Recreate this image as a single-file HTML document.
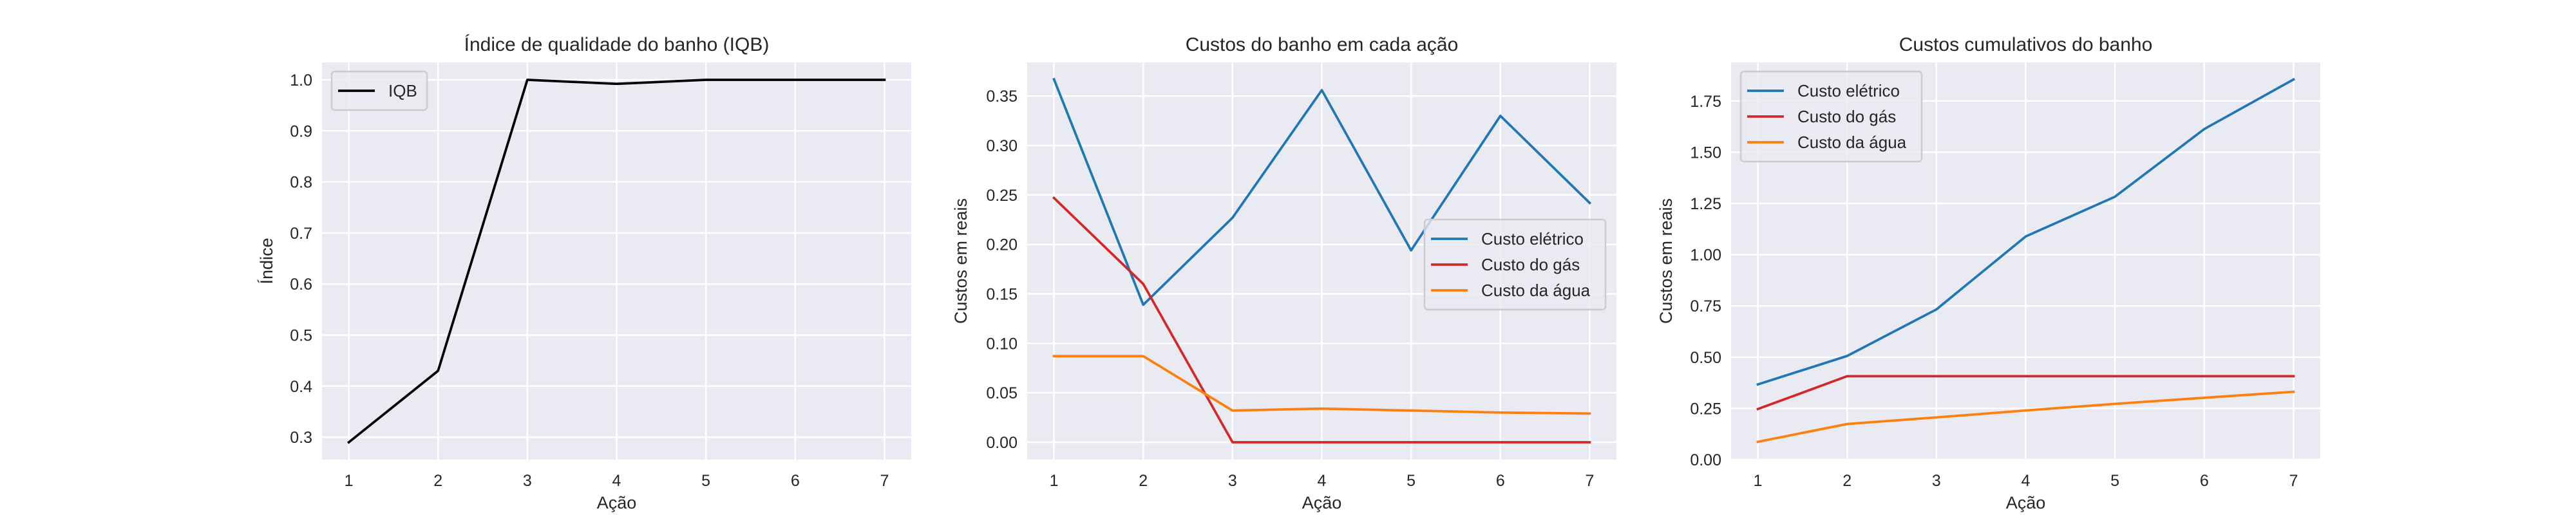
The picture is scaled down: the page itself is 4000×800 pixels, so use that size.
<!DOCTYPE html>
<html><head><meta charset="utf-8">
<style>
html,body{margin:0;padding:0;background:#fff;}
svg{display:block;font-family:"Liberation Sans",Arial,sans-serif;}
</style></head>
<body>
<svg id="chart" width="4000" height="800" viewBox="0 0 4000 800" xmlns="http://www.w3.org/2000/svg"></svg>
<script>
const actions = [1,2,3,4,5,6,7];
const iqbValues = [0.29,0.43,1.0,0.992,1.0,1.0,1.0];
const eletricoValues = [0.367,0.139,0.227,0.356,0.194,0.330,0.242];
const gasValues = [0.247,0.160,0,0,0,0,0];
const aguaValues = [0.087,0.087,0.032,0.034,0.032,0.030,0.029];
const eletricoCum = [0.367,0.506,0.733,1.089,1.283,1.613,1.855];
const gasCum = [0.247,0.407,0.407,0.407,0.407,0.407,0.407];
const aguaCum = [0.087,0.174,0.206,0.240,0.272,0.302,0.331];
const ticks1 = [0.3,0.4,0.5,0.6,0.7,0.8,0.9,1.0];
const ticks1Labels = ["0.3","0.4","0.5","0.6","0.7","0.8","0.9","1.0"];
const ticks2 = [0,0.05,0.1,0.15,0.2,0.25,0.3,0.35];
const ticks2Labels = ["0.00","0.05","0.10","0.15","0.20","0.25","0.30","0.35"];
const ticks3 = [0,0.25,0.5,0.75,1.0,1.25,1.5,1.75];
const ticks3Labels = ["0.00","0.25","0.50","0.75","1.00","1.25","1.50","1.75"];

const NS="http://www.w3.org/2000/svg";
const svg=document.getElementById('chart');
function mk(tag,attrs,parent){const e=document.createElementNS(NS,tag);for(const k in attrs)e.setAttribute(k,attrs[k]);(parent||svg).appendChild(e);return e;}

function panel(cfg){
  const g=mk('g',{});
  
  
  const L=cfg.left,R=cfg.left+915,T=97,B=714;
  const xs=v=>L+(v-0.7)/6.6*(R-L);
  const ys=v=>B-(v-cfg.ymin)/(cfg.ymax-cfg.ymin)*(B-T);
  const bg=mk('rect',{x:L,y:T,width:R-L,height:B-T,fill:'#eaeaf2'},g);
  
  
  cfg.ticks.forEach((t,i)=>{
    const y=ys(t);
    const gl=mk('line',{x1:L,x2:R,y1:y,y2:y,stroke:'#fff','stroke-width':2.5},g);
    
    
    const tl=mk('text',{x:L-15,y:y+9,'text-anchor':'end','font-size':25,fill:'#262626'},g);
    
    
    tl.textContent=cfg.tickLabels[i];
  });
  actions.forEach(a=>{
    const x=xs(a);
    const gl=mk('line',{x1:x,x2:x,y1:T,y2:B,stroke:'#fff','stroke-width':2.5},g);
    
    
    const tl=mk('text',{x:x,y:755,'text-anchor':'middle','font-size':25,fill:'#262626'},g);
    
    
    tl.textContent=String(a);
  });
  cfg.series.forEach(s=>{
    const p=mk('polyline',{points:s.values.map((v,i)=>xs(actions[i])+','+ys(v)).join(' '),fill:'none',stroke:s.color,'stroke-width':3.75,'stroke-linejoin':'round','stroke-linecap':'square'},g);
    
    
  });
  const title=mk('text',{x:(L+R)/2,y:79,'text-anchor':'middle','font-size':30,fill:'#262626'},g);
  
  
  title.textContent=cfg.title;
  const xl=mk('text',{x:(L+R)/2,y:790,'text-anchor':'middle','font-size':27,fill:'#262626'},g);
  
  
  xl.textContent='Ação';
  const yl=mk('text',{x:0,y:0,'text-anchor':'middle','font-size':27,fill:'#262626',transform:`translate(${cfg.ylx},${(T+B)/2}) rotate(-90)`},g);
  
  
  yl.textContent=cfg.ylabel;
  // legend
  const lg=mk('g',{},g);
  
  
  const n=cfg.series.length;
  mk('rect',{x:cfg.lx,y:cfg.ly,width:cfg.lw,height:20+40*n,rx:5,fill:'#eaeaf2','fill-opacity':0.8,stroke:'#cccccc','stroke-width':2.5},lg);
  cfg.series.forEach((s,i)=>{
    const cy=cfg.ly+30+40*i;
    const e=mk('g',{},lg);
    
    
    mk('line',{x1:cfg.lx+10,x2:cfg.lx+67,y1:cy,y2:cy,stroke:s.color,'stroke-width':3.75},e);
    const t=mk('text',{x:cfg.lx+88,y:cy+9,'font-size':26,fill:'#262626'},e);
    t.textContent=s.label;
  });
}
const blue='#1f77b4',red='#d62728',orange='#ff7f0e';
panel({name:'iqb-chart',left:500,ymin:0.256,ymax:1.034,ticks:ticks1,tickLabels:ticks1Labels,title:'Índice de qualidade do banho (IQB)',ylabel:'Índice',ylx:423,
  series:[{name:'iqb-line',label:'IQB',color:'#000',values:iqbValues}],lx:515,ly:111,lw:148});
panel({name:'costs-per-action-chart',left:1595,ymin:-0.0176,ymax:0.384,ticks:ticks2,tickLabels:ticks2Labels,title:'Custos do banho em cada ação',ylabel:'Custos em reais',ylx:1501,
  series:[{name:'eletrico-line',label:'Custo elétrico',color:blue,values:eletricoValues},{name:'gas-line',label:'Custo do gás',color:red,values:gasValues},{name:'agua-line',label:'Custo da água',color:orange,values:aguaValues}],lx:2212,ly:341,lw:281});
panel({name:'cumulative-costs-chart',left:2688,ymin:0,ymax:1.938,ticks:ticks3,tickLabels:ticks3Labels,title:'Custos cumulativos do banho',ylabel:'Custos em reais',ylx:2596,
  series:[{name:'eletrico-cum-line',label:'Custo elétrico',color:blue,values:eletricoCum},{name:'gas-cum-line',label:'Custo do gás',color:red,values:gasCum},{name:'agua-cum-line',label:'Custo da água',color:orange,values:aguaCum}],lx:2703,ly:111,lw:281});
</script>
</body></html>
